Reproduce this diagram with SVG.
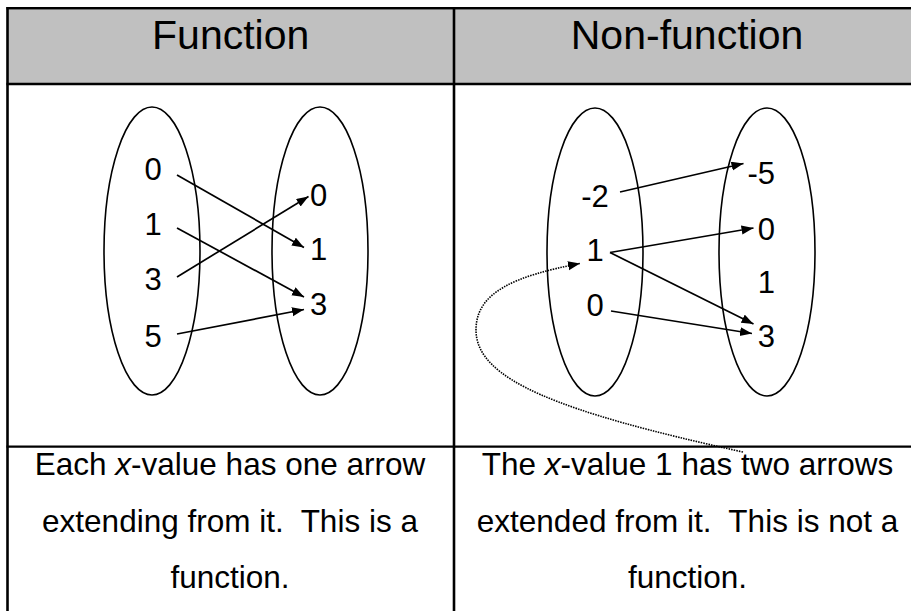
<svg xmlns="http://www.w3.org/2000/svg" width="911" height="611" viewBox="0 0 911 611">
<style>
  text { font-family: "Liberation Sans", Arial, sans-serif; fill: #000; }
  .hdr { font-size: 41px; text-anchor: middle; }
  .num { font-size: 31px; }
  .cap { font-size: 31.5px; text-anchor: middle; white-space: pre; }
  .set { fill: none; stroke: #000; stroke-width: 1.6; }
  .arr { fill: none; stroke: #000; stroke-width: 1.7; marker-end: url(#ah); }
  .dot { fill: none; stroke: #000; stroke-width: 1.6; stroke-dasharray: 1.5 1.1; marker-end: url(#ah); }
  .rule { stroke: #000; fill: none; }
</style>
<defs>
  <marker id="ah" markerUnits="userSpaceOnUse" markerWidth="13" markerHeight="10" refX="12" refY="4.5" orient="auto">
    <path d="M0,0 L12,4.5 L0,9 z" fill="#000"/>
  </marker>
</defs>
<rect x="0" y="0" width="911" height="611" fill="#fff"/>

<g id="table">
  <rect x="8" y="9.5" width="905" height="73.5" fill="#c0c0c0"/>
  <line class="rule" x1="6.5" y1="8.3" x2="911" y2="8.3" stroke-width="2.6"/>
  <line class="rule" x1="6.5" y1="84" x2="911" y2="84" stroke-width="2.7"/>
  <line class="rule" x1="6.5" y1="446.7" x2="911" y2="446.7" stroke-width="2.2"/>
  <line class="rule" x1="7.5" y1="7" x2="7.5" y2="611" stroke-width="2.6"/>
  <line class="rule" x1="454" y1="7" x2="454" y2="611" stroke-width="2.6"/>
</g>

<g id="header-function"><text class="hdr" x="230.7" y="49">Function</text></g>
<g id="header-nonfunction"><text class="hdr" x="687" y="49">Non-function</text></g>

<g id="f-domain">
  <ellipse class="set" cx="152" cy="251" rx="48" ry="144"/>
  <text class="num" text-anchor="middle" x="153" y="180">0</text>
  <text class="num" text-anchor="middle" x="153" y="235">1</text>
  <text class="num" text-anchor="middle" x="153" y="290">3</text>
  <text class="num" text-anchor="middle" x="153" y="347">5</text>
</g>
<g id="f-range">
  <ellipse class="set" cx="320" cy="251" rx="48" ry="144"/>
  <text class="num" x="310" y="206">0</text>
  <text class="num" x="310" y="260">1</text>
  <text class="num" x="310" y="315">3</text>
</g>

<g id="n-domain">
  <ellipse class="set" cx="595" cy="252" rx="48" ry="144"/>
  <text class="num" text-anchor="middle" x="595" y="207">-2</text>
  <text class="num" text-anchor="middle" x="595" y="261">1</text>
  <text class="num" text-anchor="middle" x="595" y="316">0</text>
</g>
<g id="n-range">
  <ellipse class="set" cx="767" cy="252" rx="48" ry="144"/>
  <text class="num" text-anchor="end" x="775" y="184">-5</text>
  <text class="num" text-anchor="end" x="775" y="240">0</text>
  <text class="num" text-anchor="end" x="775" y="293">1</text>
  <text class="num" text-anchor="end" x="775" y="347">3</text>
</g>

<g id="connectors">
  <line class="arr" x1="177" y1="175" x2="304" y2="247.5"/>
  <line class="arr" x1="177" y1="228" x2="304" y2="297"/>
  <line class="arr" x1="177" y1="277" x2="308.5" y2="196.5"/>
  <line class="arr" x1="177" y1="334" x2="304" y2="309.5"/>
  <line class="arr" x1="620" y1="192" x2="743.5" y2="163.5"/>
  <line class="arr" x1="610" y1="252.5" x2="753.5" y2="228"/>
  <line class="arr" x1="610" y1="252.5" x2="753.5" y2="324"/>
  <line class="arr" x1="611" y1="311" x2="752" y2="333.5"/>
  <path class="dot" d="M743,452 C560,412 476,380 476,330 C476,292 515,276 580,263.5"/>
</g>

<g id="caption-function">
  <text class="cap" x="230" y="475">Each <tspan font-style="italic">x</tspan>-value has one arrow</text>
  <text class="cap" x="230" y="531.5">extending from it.  This is a</text>
  <text class="cap" x="230" y="588">function.</text>
</g>
<g id="caption-nonfunction">
  <text class="cap" x="687.5" y="475">The <tspan font-style="italic">x</tspan>-value 1 has two arrows</text>
  <text class="cap" x="687.5" y="531.5">extended from it.  This is not a</text>
  <text class="cap" x="687.5" y="588">function.</text>
</g>
</svg>
